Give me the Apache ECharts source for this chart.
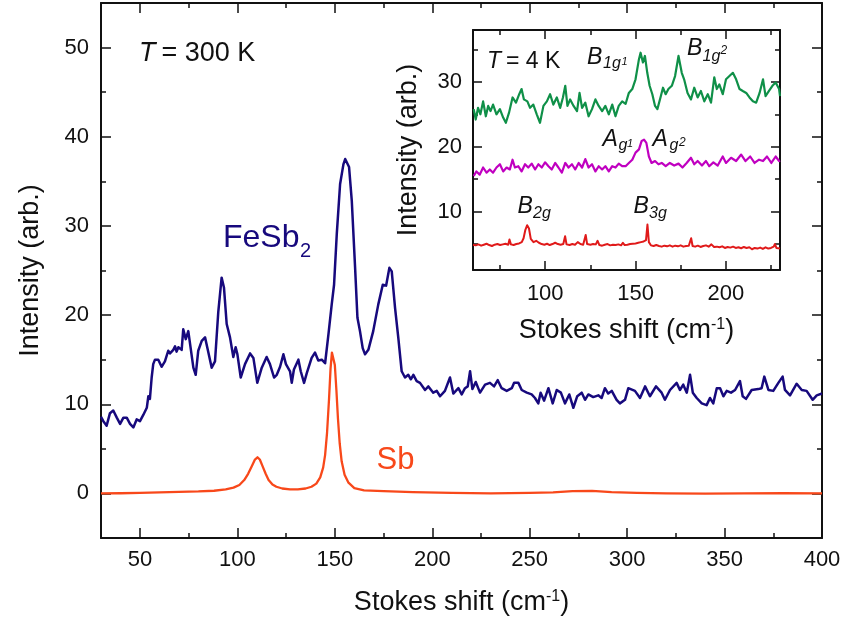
<!DOCTYPE html>
<html>
<head>
<meta charset="utf-8">
<script src="https://cdn.jsdelivr.net/npm/echarts@6/dist/echarts.min.js"></script>
<style>
  html, body { margin: 0; padding: 0; background: #fff; }
  #chart { width: 842px; height: 622px; }
</style>
</head>
<body>
<div id="chart"></div>
<script>
const FONT = '"Liberation Sans", Arial, Helvetica, sans-serif';

// Raman spectra at 300 K: [Stokes shift (cm^-1), intensity (arb.)]
const fesb2_300K = [
  [30,8.6],[31.2,8.1],[32.9,7.6],[34.6,9.0],[36.3,9.3],[38.1,8.5],[39.8,7.8],[41.5,8.5],[43.2,8.5],[44.9,7.8],
  [46.6,7.4],[48.3,8.3],[50.0,8.1],[51.7,8.8],[53.5,9.6],[54.3,10.9],[55.1,10.6],[56.0,13.0],[56.8,14.5],[57.7,15.0],
  [59.4,15.0],[61.1,14.2],[62.8,14.8],[64.5,16.0],[65.4,15.7],[67.1,16.1],[68.0,16.5],[68.8,15.9],[69.7,16.4],[71.4,16.1],
  [72.2,18.4],[73.5,17.3],[74.8,18.2],[75.7,18.1],[77.4,14.1],[78.6,13.3],[79.9,16.0],[81.7,17.1],[83.4,17.5],[84.6,16.3],
  [86.8,14.1],[88.5,14.8],[90.2,20.4],[91.9,24.2],[93.1,23.1],[94.5,19.0],[96.2,17.5],[97.9,15.3],[99.1,16.4],[100.0,15.6],
  [101.7,13.0],[103.9,14.5],[106.5,15.7],[108.2,15.2],[110.2,12.4],[112.5,14.1],[115.0,15.3],[116.7,14.5],[118.8,13.0],[120.2,13.3],
  [121.9,14.2],[123.6,15.6],[124.9,14.5],[127.0,13.7],[127.9,12.4],[129.0,13.9],[131.3,15.0],[132.5,13.7],[134.2,12.4],[135.6,13.5],
  [138.1,15.2],[139.8,15.8],[141.5,14.9],[143.3,15.0],[145.0,14.6],[146.7,17.8],[148.4,21.2],[149.6,23.4],[151.0,29.1],[152.7,34.7],
  [154.4,36.9],[155.3,37.5],[156.1,37.3],[157.3,36.6],[158.7,32.8],[160.4,25.3],[161.6,19.7],[162.9,18.2],[164.3,16.3],[165.5,15.6],
  [167.2,16.1],[169.7,18.2],[172.3,21.2],[174.6,23.4],[176.3,23.3],[178.0,25.3],[179.2,24.9],[180.9,20.8],[182.6,17.4],[184.3,13.7],
  [186.0,13.0],[187.7,13.3],[189.0,12.8],[190.3,13.3],[192.0,12.6],[193.7,12.4],[196.3,11.6],[198.0,12.0],[200.5,11.3],[202.3,11.5],
  [204.0,10.9],[206.5,11.5],[209.1,13.0],[210.8,11.2],[213.4,11.8],[215.1,11.1],[216.8,11.8],[218.2,12.0],[219.4,13.7],[220.6,11.7],
  [222.3,12.5],[224.5,11.3],[227.1,12.2],[229.6,12.4],[231.7,12.0],[233.6,12.7],[235.6,11.8],[238.2,11.5],[240.8,11.8],[242.0,12.4],
  [244.2,12.4],[245.9,11.6],[248.5,11.3],[251.0,11.1],[252.7,10.7],[254.4,10.1],[255.6,11.3],[257.4,10.4],[259.6,11.8],[261.8,10.1],
  [263.9,11.6],[266.0,11.3],[268.1,10.1],[270.3,11.1],[272.4,9.6],[274.4,10.9],[276.7,11.3],[278.4,10.5],[280.1,11.1],[282.6,10.8],
  [285.2,11.0],[286.9,10.7],[288.6,11.8],[290.3,11.2],[292.1,11.5],[294.6,10.5],[296.3,10.1],[298.9,10.5],[300.6,11.8],[304.0,11.5],
  [306.6,10.7],[309.2,12.0],[311.7,10.9],[314.8,12.0],[317.7,11.3],[319.4,10.5],[322.0,11.6],[325.4,12.4],[327.1,11.6],[328.8,12.2],
  [330.6,11.3],[332.3,13.3],[333.7,11.3],[335.7,10.7],[338.3,10.1],[340.8,9.9],[342.5,10.7],[344.2,10.1],[346.0,11.8],[347.7,11.8],
  [349.4,10.9],[351.1,11.5],[353.3,11.3],[355.4,11.6],[357.9,12.6],[359.3,10.9],[361.0,10.6],[363.9,11.6],[367.3,11.7],[369.0,11.8],
  [370.4,13.1],[372.5,11.6],[375.0,11.5],[377.6,12.4],[379.8,13.1],[381.0,11.6],[383.6,11.0],[387.0,12.3],[389.6,11.6],[392.1,11.5],
  [395.2,10.5],[397.3,11.0],[400,11.2]
];

const sb_300K = [
  [30,0.0],[40,0.02],[50,0.05],[60,0.12],[70,0.18],[80,0.22],[88,0.3],[94,0.45],[98,0.65],[101,0.95],
  [103.5,1.5],[105.5,2.2],[107.5,3.1],[109,3.8],[110.3,4.05],[111.5,3.8],[113,3.0],[114.5,2.2],[116,1.5],[118,1.0],
  [120,0.75],[123,0.55],[127,0.45],[131,0.45],[135,0.55],[138,0.75],[140.5,1.1],[142.5,1.8],[144,2.9],[145,4.3],
  [146,6.8],[147,10.5],[147.8,14.0],[148.5,15.8],[149.2,15.9],[150,14.4],[150.8,11.6],[151.6,8.4],[152.5,5.6],[153.5,3.6],
  [155,2.1],[157,1.2],[160,0.6],[165,0.35],[175,0.25],[190,0.15],[210,0.05],[230,0.0],[250,0.05],[262,0.12],
  [272,0.25],[282,0.28],[292,0.15],[305,0.05],[320,0.0],[340,-0.02],[360,0.0],[380,0.02],[400,0.0]
];

// Raman spectra at 4 K (inset), one array per symmetry channel
const b1g_4K = [
  [60.4,25.8],[61.5,24.2],[62.8,26.0],[64.1,25.0],[65.6,27.0],[67.1,24.7],[68.4,26.3],[69.7,25.5],[71.1,26.5],[73.0,25.0],
  [74.9,25.8],[76.7,24.5],[78.2,23.7],[80.0,25.3],[81.9,27.6],[83.8,26.8],[85.6,28.1],[86.9,28.9],[88.2,27.3],[90.1,27.0],
  [91.6,26.0],[93.4,26.5],[95.3,25.0],[97.1,23.7],[99.0,26.3],[100.9,27.0],[102.7,28.1],[104.5,26.5],[106.4,27.6],[108.3,26.0],
  [109.8,27.6],[111.1,29.4],[112.3,26.3],[113.8,27.3],[115.7,26.3],[117.6,25.5],[119.0,28.3],[120.4,26.0],[122.2,26.8],[124.0,24.7],
  [125.9,25.8],[127.8,27.3],[129.6,26.3],[131.5,25.5],[133.3,26.3],[135.2,25.0],[137.1,26.5],[138.9,24.7],[140.7,26.3],[142.6,27.0],
  [144.5,26.6],[146.3,28.3],[148.2,28.9],[150.0,30.4],[151.9,33.5],[152.8,34.5],[154.1,33.0],[155.2,34.0],[156.5,31.4],[157.8,29.4],
  [159.3,28.1],[160.8,26.3],[162.1,25.8],[164.0,27.8],[165.2,29.1],[166.7,28.1],[168.2,28.9],[170.1,29.4],[171.9,30.9],[173.8,34.0],
  [174.7,34.3],[175.6,31.4],[176.9,30.4],[178.8,28.3],[180.7,27.3],[182.5,29.1],[184.4,27.6],[186.2,28.6],[188.1,27.0],[190.0,28.1],
  [191.8,26.8],[193.6,30.7],[195.0,28.9],[196.4,29.6],[198.3,28.1],[200.1,30.4],[202.0,30.9],[203.9,31.4],[205.7,30.4],[207.6,28.9],
  [209.4,28.6],[211.3,28.3],[213.1,27.6],[215.0,27.0],[216.8,26.8],[218.7,28.3],[220.6,30.4],[222.0,27.8],[223.9,28.6],[225.8,29.4],
  [227.6,29.9],[229.5,28.9],[230,27.8]
];

const ag_4K = [
  [60.4,15.5],[61.9,16.2],[63.7,15.7],[65.6,16.8],[67.5,16.0],[69.3,16.5],[71.1,16.0],[73.0,16.8],[74.9,17.3],[76.7,16.2],
  [78.6,16.8],[80.4,16.5],[81.9,18.0],[83.2,16.8],[85.1,17.0],[86.9,16.2],[88.8,17.3],[90.6,16.8],[92.5,17.4],[94.4,16.5],
  [96.2,17.3],[98.1,16.8],[99.9,17.6],[101.8,17.0],[103.6,16.5],[105.5,17.5],[107.3,16.8],[109.2,16.0],[111.1,17.5],[112.9,16.8],
  [114.8,17.3],[116.6,16.5],[118.5,17.5],[120.4,16.8],[122.2,18.1],[124.0,16.8],[125.9,17.3],[127.8,16.2],[129.6,17.0],[131.5,16.5],
  [133.3,17.0],[135.2,16.2],[137.1,17.0],[138.9,16.8],[140.7,17.4],[142.6,17.0],[144.5,17.0],[146.3,17.5],[148.2,18.0],[150.0,19.1],
  [151.9,19.6],[153.4,20.9],[154.7,21.1],[156.0,20.6],[157.4,18.5],[158.9,17.5],[160.8,17.8],[162.7,17.3],[164.5,17.5],[166.7,17.0],
  [169.0,17.5],[171.4,17.1],[173.8,17.4],[176.0,16.8],[178.3,17.5],[180.7,18.3],[182.5,17.3],[184.4,17.8],[186.8,17.1],[189.0,17.8],
  [190.8,17.0],[193.1,17.6],[195.5,17.1],[198.3,18.5],[200.1,17.5],[202.9,18.3],[205.7,17.8],[208.5,18.8],[210.9,17.8],[213.5,18.5],
  [215.9,17.5],[218.4,18.0],[220.6,17.8],[222.8,18.5],[225.2,17.5],[227.6,18.5],[229.5,17.8],[230,17.9]
];

const b2g_b3g_4K = [
  [60,4.9],[61.5,4.8],[63,4.95],[64.5,4.75],[66,4.9],[67.5,5.05],[69,4.85],[70.5,4.7],[72,4.9],[73.5,5.0],
  [75,4.85],[76.5,4.95],[78,5.05],[79.5,4.9],[80.2,5.7],[81,4.95],[82.5,4.85],[84,5.0],[85.5,5.1],[87,5.3],
  [88,5.9],[89,7.2],[90,7.9],[91,7.4],[92,5.8],[93.5,5.3],[95,5.5],[96.5,5.2],[98,5.0],[99.5,4.9],
  [101,5.05],[102.5,4.85],[104,5.0],[105.5,5.2],[107,5.0],[108.5,4.9],[110,5.0],[111,6.2],[111.8,4.95],[113.5,4.85],
  [115,5.0],[116.5,4.9],[118,5.3],[119.5,5.0],[121,4.9],[122.4,6.4],[123.2,5.0],[125,4.9],[126.5,5.0],[128,4.95],
  [129,5.5],[130,4.85],[131.5,4.75],[133,4.9],[134.5,5.0],[136,4.8],[137.5,4.9],[139,4.85],[140.5,4.95],[142,4.8],
  [143,5.2],[144,4.85],[145.5,4.9],[147,5.0],[148.5,5.05],[150,5.1],[151.5,5.2],[153,5.3],[154.5,5.4],[155.8,5.6],
  [156.6,8.0],[157.4,5.3],[158.5,4.8],[160,4.7],[161.5,4.85],[163,4.7],[164.5,4.6],[166,4.75],[167.5,4.65],[169,4.8],
  [170.5,4.6],[172,4.75],[173.5,4.65],[175,4.8],[176.5,4.6],[178,4.7],[179.5,4.75],[180.8,5.9],[181.6,4.7],[183,4.6],
  [184.5,4.75],[186,4.55],[187.5,4.7],[189,4.8],[190.5,4.6],[192,4.95],[193.5,4.55],[195,4.6],[196.5,4.5],[198,4.65],
  [199.5,4.4],[201,4.55],[202.5,4.45],[204,4.6],[205.5,4.4],[207,4.5],[208.5,4.35],[210,4.55],[211.5,4.4],[213,4.5],
  [214.5,4.2],[216,4.4],[217.5,4.3],[219,4.45],[220.5,4.25],[222,4.5],[223.5,4.3],[225,4.4],[226.5,4.6],[227.2,5.0],
  [228,4.4],[229,4.5],[230,4.3]
];

// Tick positions
const mainXMajor = [50, 100, 150, 200, 250, 300, 350, 400];
const mainXMinor = [75, 125, 175, 225, 275, 325, 375];
const mainYMajor = [0, 10, 20, 30, 40, 50];
const mainYMinor = [5, 15, 25, 35, 45];
const insetXMajor = [100, 150, 200];
const insetXMinor = [75, 125, 175, 225];
const insetYMajor = [10, 20, 30];
const insetYMinor = [5, 15, 25, 35];

const INK = '#111';
const C_FESB2 = '#17097d';
const C_SB = '#f8481a';
const C_B1G = '#0f9048';
const C_AG = '#c000c0';
const C_B23 = '#e01a1a';

const titleRich = {
  t: { fontSize: 27, fontFamily: FONT, color: INK },
  s: { fontSize: 16, fontFamily: FONT, color: INK, verticalAlign: 'top' }
};

// One value axis: either a frame side with long ticks, or an overlay carrying the short minor ticks
function valueAxis(grid, position, min, max, ticks, tickLen, extra) {
  extra = extra || {};
  const ax = {
    type: 'value', gridIndex: grid, position: position, min: min, max: max,
    axisLine: { show: !!extra.line, onZero: false, lineStyle: { color: INK, width: 2 } },
    axisTick: { show: true, inside: true, length: tickLen, customValues: ticks,
                lineStyle: { color: INK, width: 1.5 } },
    axisLabel: { show: false },
    splitLine: { show: false },
    axisPointer: { show: false }
  };
  if (extra.labels) {
    ax.axisLabel = { show: true, customValues: extra.labels, fontSize: 22, fontFamily: FONT,
                     color: INK, margin: extra.margin };
  }
  if (extra.name) {
    ax.name = extra.name;
    ax.nameLocation = 'middle';
    ax.nameGap = extra.nameGap;
    ax.nameTextStyle = { fontSize: 27, fontFamily: FONT, color: INK, rich: titleRich };
  }
  return ax;
}

const xTitle = '{t|Stokes shift (cm}{s|-1}{t|)}';
const yTitle = 'Intensity (arb.)';

const xAxes = [
  valueAxis(0, 'bottom', 30, 400, mainXMajor, 10, { line: true, labels: mainXMajor, margin: 11, name: xTitle, nameGap: 51 }),
  valueAxis(0, 'bottom', 30, 400, mainXMinor, 5),
  valueAxis(0, 'top', 30, 400, mainXMajor, 10, { line: true }),
  valueAxis(0, 'top', 30, 400, mainXMinor, 5),
  valueAxis(1, 'bottom', 60, 230, insetXMajor, 9, { line: true, labels: insetXMajor, margin: 13, name: xTitle, nameGap: 47 }),
  valueAxis(1, 'bottom', 60, 230, insetXMinor, 5),
  valueAxis(1, 'top', 60, 230, insetXMajor, 9, { line: true }),
  valueAxis(1, 'top', 60, 230, insetXMinor, 5)
];
const yAxes = [
  valueAxis(0, 'left', -5, 55, mainYMajor, 10, { line: true, labels: mainYMajor, margin: 12, name: yTitle, nameGap: 57 }),
  valueAxis(0, 'left', -5, 55, mainYMinor, 5),
  valueAxis(0, 'right', -5, 55, mainYMajor, 10, { line: true }),
  valueAxis(0, 'right', -5, 55, mainYMinor, 5),
  valueAxis(1, 'left', 1, 38, insetYMajor, 9, { line: true, labels: insetYMajor, margin: 11, name: yTitle, nameGap: 51 }),
  valueAxis(1, 'left', 1, 38, insetYMinor, 5),
  valueAxis(1, 'right', 1, 38, insetYMajor, 9, { line: true }),
  valueAxis(1, 'right', 1, 38, insetYMinor, 5)
];

function spectrum(data, color, width, axisIdx) {
  return {
    type: 'line', data: data, xAxisIndex: axisIdx, yAxisIndex: axisIdx,
    showSymbol: false, symbol: 'none', smooth: false, silent: true,
    lineStyle: { color: color, width: width, join: 'round' }
  };
}

// Plain and italic text annotations
function label(text, x, y, size, color, italic) {
  return {
    type: 'text', x: x, y: y, silent: true,
    style: { text: text, fill: color, fontSize: size, fontFamily: FONT,
             fontStyle: italic ? 'italic' : 'normal', align: 'left', verticalAlign: 'middle' }
  };
}
function tempLabel(value, x, y, size, gap) {
  return {
    type: 'text', x: x, y: y, silent: true,
    style: {
      text: '{i|T}{n|= ' + value + ' K}', align: 'left', verticalAlign: 'middle',
      rich: {
        i: { fontSize: size, fontFamily: FONT, fontStyle: 'italic', fill: INK },
        n: { fontSize: size, fontFamily: FONT, fill: INK, padding: [0, 0, 0, gap] }
      }
    }
  };
}

const graphics = [
  tempLabel('300', 139, 53.5, 27, 6),
  tempLabel('4', 487, 62, 23, 5),
  label('FeSb', 223, 238.5, 32, C_FESB2, false),
  label('2', 300, 251, 20, C_FESB2, false),
  label('Sb', 376.5, 460, 31, C_SB, false),
  // Raman mode assignments in the inset
  label('B', 587, 57.5, 23, INK, true),
  label('1g', 603, 64, 16, INK, true),
  label('1', 621.5, 62, 11, INK, true),
  label('B', 687, 48.5, 23, INK, true),
  label('1g', 702.5, 57, 16, INK, true),
  label('2', 720.5, 51, 12, INK, true),
  label('A', 602.5, 139.5, 23, INK, true),
  label('g', 618.5, 145.5, 16, INK, true),
  label('1', 627, 144, 11, INK, true),
  label('A', 652.5, 139.5, 23, INK, true),
  label('g', 669.5, 145.5, 16, INK, true),
  label('2', 679, 143, 12, INK, true),
  label('B', 517.5, 206.5, 23, INK, true),
  label('2g', 533, 214, 16, INK, true),
  label('B', 633.5, 206.5, 23, INK, true),
  label('3g', 649, 214, 16, INK, true)
];

const chart = echarts.init(document.getElementById('chart'), null, { renderer: 'canvas' });
chart.setOption({
  animation: false,
  backgroundColor: '#fff',
  grid: [
    { left: 101, top: 3, width: 721, height: 535, containLabel: false, outerBoundsMode: 'none' },
    { left: 473, top: 30, width: 307, height: 240, containLabel: false, outerBoundsMode: 'none' }
  ],
  xAxis: xAxes,
  yAxis: yAxes,
  series: [
    spectrum(sb_300K, C_SB, 2.3, 0),
    spectrum(fesb2_300K, C_FESB2, 2.5, 0),
    spectrum(b1g_4K, C_B1G, 2.2, 4),
    spectrum(ag_4K, C_AG, 2.2, 4),
    spectrum(b2g_b3g_4K, C_B23, 2.0, 4)
  ],
  graphic: graphics
});
</script>
</body>
</html>
